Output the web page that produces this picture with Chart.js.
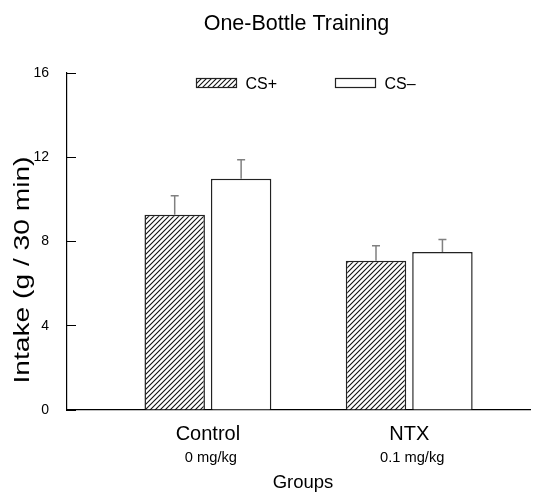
<!DOCTYPE html>
<html lang="en">
<head>
<meta charset="UTF-8">
<title>One-Bottle Training</title>
<script src="https://cdn.jsdelivr.net/npm/chart.js"></script>
<style>
  html, body { margin: 0; padding: 0; background: #fff; }
  #wrap { width: 546px; height: 492px; }
</style>
</head>
<body>
<div id="wrap"><canvas id="intakeChart"></canvas></div>
<script>
// data
const groups = ['Control', 'NTX'];
const doses = ['0 mg/kg', '0.1 mg/kg'];
const groupPos = [1, 2];
const seriesNames = ['CS+', 'CS\u2013'];
const csPlus = [9.27, 7.09];
const csPlusErr = [0.9, 0.71];
const csMinus = [10.98, 7.5];
const csMinusErr = [0.9, 0.59];
const yTicks = [0, 4, 8, 12, 16];

const FONT = "'Liberation Sans', Arial, Helvetica, sans-serif";

function hatchPattern() {
    const c = document.createElement('canvas');
    c.width = 5; c.height = 5;
    const g = c.getContext('2d');
    g.fillStyle = '#fff';
    g.fillRect(0, 0, 5, 5);
    g.strokeStyle = '#111';
    g.lineWidth = 1.1;
    g.beginPath();
    g.moveTo(-1, 6); g.lineTo(6, -1);
    g.moveTo(-1, 1); g.lineTo(1, -1);
    g.moveTo(4, 6); g.lineTo(6, 4);
    g.stroke();
    return g.createPattern(c, 'repeat');
}
const hatch = hatchPattern();

// error bars (upper half only)
const errorBars = {
    id: 'errorBars',
    afterDatasetsDraw(chart) {
        const ctx = chart.ctx;
        const y = chart.scales.y;
        chart.data.datasets.forEach((ds, i) => {
            chart.getDatasetMeta(i).data.forEach((bar, j) => {
                const top = y.getPixelForValue(ds.data[j].y + ds.errors[j]);
                ctx.save();
                ctx.strokeStyle = '#808080';
                ctx.lineWidth = 1.5;
                ctx.beginPath();
                ctx.moveTo(bar.x, bar.y);
                ctx.lineTo(bar.x, top);
                ctx.moveTo(bar.x - 4, top);
                ctx.lineTo(bar.x + 4, top);
                ctx.stroke();
                ctx.restore();
            });
        });
    }
};

// legend inside the plot + extra text
const extras = {
    id: 'extras',
    afterDraw(chart) {
        const ctx = chart.ctx;
        const area = chart.chartArea;
        const x = chart.scales.x;
        ctx.save();
        ctx.fillStyle = '#000';

        // legend
        const legendX = [area.left + 129.5, area.left + 268.5];
        chart.data.datasets.forEach((ds, i) => {
            const bx = legendX[i], by = area.top + 5.5;
            ctx.fillStyle = ds.backgroundColor;
            ctx.fillRect(bx, by, 40, 9);
            ctx.strokeStyle = '#222';
            ctx.lineWidth = 1.2;
            ctx.strokeRect(bx, by, 40, 9);
            ctx.fillStyle = '#000';
            ctx.font = '16px ' + FONT;
            ctx.textAlign = 'left';
            ctx.textBaseline = 'alphabetic';
            ctx.fillText(ds.label, bx + 49, by + 10.5);
        });

        // title
        ctx.textAlign = 'center';
        ctx.font = '21.5px ' + FONT;
        ctx.fillText('One-Bottle Training', 296.5, 30);

        // dose sub-labels
        ctx.font = '14.7px ' + FONT;
        groupPos.forEach((p, i) => {
            ctx.fillText(doses[i], x.getPixelForValue(p) + 3, 461.5);
        });

        // x title
        ctx.font = '18.5px ' + FONT;
        ctx.fillText('Groups', 303, 488);

        // y title (stretched lengthwise like the original)
        ctx.translate(29, 270);
        ctx.rotate(-Math.PI / 2);
        ctx.scale(1.28, 1);
        ctx.font = '22px ' + FONT;
        ctx.fillText('Intake (g / 30 min)', 0, 0);
        ctx.restore();
    }
};

const ctx = document.getElementById('intakeChart').getContext('2d');
new Chart(ctx, {
    type: 'bar',
    data: {
        datasets: [{
            label: seriesNames[0],
            data: groupPos.map((p, i) => ({ x: p, y: csPlus[i] })),
            errors: csPlusErr,
            backgroundColor: hatch,
            borderColor: '#222',
            borderWidth: 1.5
        }, {
            label: seriesNames[1],
            data: groupPos.map((p, i) => ({ x: p, y: csMinus[i] })),
            errors: csMinusErr,
            backgroundColor: '#fff',
            borderColor: '#222',
            borderWidth: 1.5
        }]
    },
    options: {
        responsive: true,
        maintainAspectRatio: false,
        animation: false,
        categoryPercentage: 0.66,
        barPercentage: 0.91,
        layout: { padding: { top: 73, right: 16, left: 0, bottom: 0 } },
        plugins: {
            legend: { display: false },
            title: { display: false },
            tooltip: { enabled: false }
        },
        scales: {
            x: {
                type: 'linear',
                offset: false,
                min: 0.3,
                max: 2.6,
                afterBuildTicks: (scale) => { scale.ticks = groupPos.map(v => ({ value: v })); },
                afterFit: (scale) => { scale.height = 82; },
                grid: { display: false },
                border: { display: true, color: '#000', width: 1.2 },
                ticks: {
                    padding: 4,
                    color: '#000',
                    font: { family: FONT, size: 20 },
                    callback: (v) => groups[groupPos.indexOf(v)] || ''
                }
            },
            y: {
                min: 0,
                max: 16,
                afterBuildTicks: (scale) => { scale.ticks = yTicks.map(v => ({ value: v })); },
                afterFit: (scale) => { scale.width = 67; },
                grid: { drawOnChartArea: false, tickLength: -9, color: '#000', lineWidth: 1 },
                border: { display: true, color: '#000', width: 1.2 },
                ticks: {
                    padding: 27,
                    color: '#000',
                    font: { family: FONT, size: 14 }
                }
            }
        }
    },
    plugins: [errorBars, extras]
});
</script>
</body>
</html>
